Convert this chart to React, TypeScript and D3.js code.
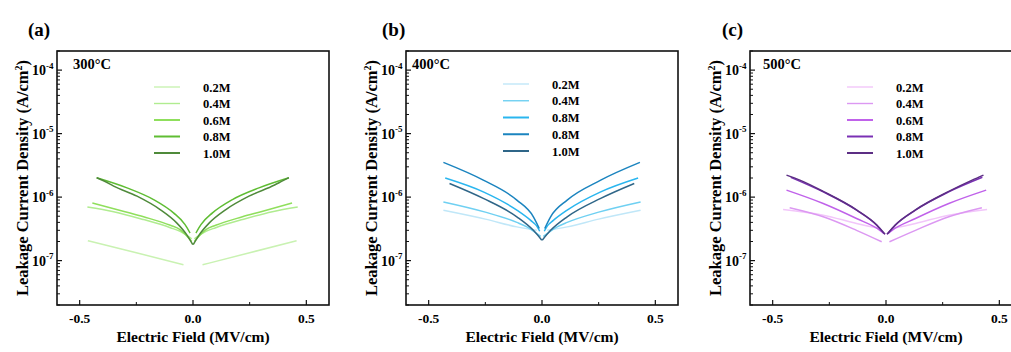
import React from 'react';
import * as d3 from 'd3';

// ---------- data ----------
const fieldTicks = [-0.5, 0, 0.5];
const fieldTickLabels = ['-0.5', '0.0', '0.5'];
const fieldMinorTicks = [-0.25, 0.25];
const densityTicks = [1e-7, 1e-6, 1e-5, 1e-4];
const densityTickExp = ['-7', '-6', '-5', '-4'];
const fieldDomain: [number, number] = [-0.6, 0.6];
const densityDomain: [number, number] = [2e-8, 2e-4];

const titles = ['300°C', '400°C', '500°C'];
const panelTags = ['(a)', '(b)', '(c)'];
const legendA = ['0.2M', '0.4M', '0.6M', '0.8M', '1.0M'];
const legendB = ['0.2M', '0.4M', '0.8M', '0.8M', '1.0M'];
const legendC = ['0.2M', '0.4M', '0.6M', '0.8M', '1.0M'];

const colorsA = ['#c9f2b2', '#b0ec90', '#8fdf5c', '#5fbd33', '#4f8a3a'];
const colorsB = ['#c0e7f8', '#6fd0f2', '#2ab6ef', '#1b84bf', '#2f6688'];
const colorsC = ['#f2c6fa', '#dc98f2', '#c062ea', '#7a30b4', '#5c2e84'];

type Pt = [number, number];

// panel (a) 300°C
const a02: Pt[] = [[-0.464, 2.06e-7], [-0.25, 1.33e-7], [-0.042, 8.6e-8], [0.042, 8.6e-8], [0.25, 1.33e-7], [0.457, 2.06e-7]];
const a04: Pt[] = [[-0.466, 7.0e-7], [-0.35, 5.9e-7], [-0.218, 4.43e-7], [-0.1, 3.3e-7], [-0.057, 2.9e-7], [-0.006, 2.2e-7],
  [0.006, 2.2e-7], [0.057, 2.9e-7], [0.1, 3.3e-7], [0.218, 4.43e-7], [0.35, 5.9e-7], [0.462, 7.0e-7]];
const a06: Pt[] = [[-0.444, 8.1e-7], [-0.3, 5.9e-7], [-0.218, 4.9e-7], [-0.1, 3.6e-7], [-0.057, 3.08e-7], [-0.006, 2.0e-7],
  [0.006, 2.0e-7], [0.057, 3.08e-7], [0.1, 3.6e-7], [0.218, 4.9e-7], [0.3, 5.9e-7], [0.437, 8.1e-7]];
const a08: Pt[] = [[-0.425, 2.02e-6], [-0.291, 1.4e-6], [-0.174, 9.16e-7], [-0.086, 5.65e-7], [-0.035, 3.69e-7], [-0.013, 2.72e-7],
  [0.013, 2.72e-7], [0.035, 3.69e-7], [0.086, 5.65e-7], [0.174, 9.16e-7], [0.291, 1.4e-6], [0.423, 2.02e-6]];
const a10: Pt[] = [[-0.425, 2.02e-6], [-0.39, 1.78e-6], [-0.35, 1.49e-6], [-0.247, 1.035e-6], [-0.145, 6.37e-7], [-0.072, 3.93e-7], [-0.028, 2.56e-7], [-0.001, 1.78e-7],
  [0.001, 1.78e-7], [0.028, 2.56e-7], [0.072, 3.93e-7], [0.145, 6.37e-7], [0.247, 1.035e-6], [0.36, 1.55e-6], [0.395, 1.8e-6], [0.423, 2.02e-6]];

// panel (b) 400°C
const b02: Pt[] = [[-0.435, 6.2e-7], [-0.25, 4.5e-7], [-0.111, 3.4e-7], [-0.023, 3.0e-7],
  [0.023, 3.0e-7], [0.111, 3.4e-7], [0.25, 4.5e-7], [0.435, 6.2e-7]];
const b04: Pt[] = [[-0.435, 8.4e-7], [-0.25, 5.8e-7], [-0.111, 4.0e-7], [-0.067, 3.4e-7], [-0.006, 2.4e-7],
  [0.006, 2.4e-7], [0.067, 3.4e-7], [0.111, 4.0e-7], [0.25, 5.8e-7], [0.435, 8.4e-7]];
const b08a: Pt[] = [[-0.427, 2.0e-6], [-0.259, 1.21e-6], [-0.111, 6.24e-7], [-0.05, 4.3e-7], [-0.023, 3.5e-7], [-0.01, 2.9e-7],
  [0.01, 2.9e-7], [0.023, 3.5e-7], [0.05, 4.3e-7], [0.111, 6.24e-7], [0.259, 1.21e-6], [0.424, 2.0e-6]];
const b08b: Pt[] = [[-0.435, 3.52e-6], [-0.259, 1.85e-6], [-0.111, 8.97e-7], [-0.038, 4.9e-7], [-0.012, 3.21e-7],
  [0.012, 3.21e-7], [0.038, 4.9e-7], [0.111, 8.97e-7], [0.259, 1.85e-6], [0.432, 3.52e-6]];
const b10: Pt[] = [[-0.408, 1.64e-6], [-0.259, 9.55e-7], [-0.111, 4.9e-7], [-0.038, 3.0e-7], [-0.001, 2.1e-7],
  [0.001, 2.1e-7], [0.038, 3.0e-7], [0.111, 4.9e-7], [0.259, 9.55e-7], [0.407, 1.64e-6]];

// panel (c) 500°C
const c02: Pt[] = [[-0.454, 6.4e-7], [-0.277, 5.2e-7], [-0.13, 3.85e-7], [-0.027, 3.2e-7],
  [0.027, 3.2e-7], [0.13, 3.85e-7], [0.277, 5.2e-7], [0.446, 6.4e-7]];
const c04: Pt[] = [[-0.425, 6.8e-7], [-0.277, 4.9e-7], [-0.13, 3.0e-7], [-0.019, 1.98e-7],
  [0.015, 1.98e-7], [0.13, 3.0e-7], [0.277, 4.9e-7], [0.423, 6.8e-7]];
const c06: Pt[] = [[-0.439, 1.29e-6], [-0.277, 7.94e-7], [-0.13, 4.6e-7], [-0.027, 3.0e-7], [-0.005, 2.6e-7],
  [0.005, 2.6e-7], [0.027, 3.0e-7], [0.13, 4.6e-7], [0.277, 7.94e-7], [0.442, 1.29e-6]];
const c08: Pt[] = [[-0.42, 2.05e-6], [-0.277, 1.21e-6], [-0.13, 6.24e-7], [-0.041, 3.62e-7], [-0.009, 2.68e-7],
  [0.009, 2.68e-7], [0.041, 3.62e-7], [0.13, 6.24e-7], [0.277, 1.21e-6], [0.425, 2.05e-6]];
const c10: Pt[] = [[-0.439, 2.22e-6], [-0.38, 1.85e-6], [-0.277, 1.23e-6], [-0.13, 6.3e-7], [-0.041, 3.65e-7], [-0.004, 2.6e-7],
  [0.004, 2.6e-7], [0.041, 3.65e-7], [0.13, 6.3e-7], [0.277, 1.23e-6], [0.38, 1.85e-6], [0.43, 2.22e-6]];

// ---------- layout ----------
const W = 1011;
const H = 352;
const TOP = 51;
const BOTTOM = 305;
const PW = 272;
const FONT = "'Liberation Serif', 'Times New Roman', serif";

interface PanelCfg {
  left: number;
  titleDx: number;
  tagDx: number;
  legendTop: number;
  legendStep: number;
  labels: string[];
  colors: string[];
  series: Pt[][];
}

const panels: PanelCfg[] = [
  { left: 57, titleDx: 16, tagDx: -29, legendTop: 87, legendStep: 16.5, labels: legendA, colors: colorsA, series: [a02, a04, a06, a08, a10] },
  { left: 406, titleDx: 6, tagDx: -24, legendTop: 84, legendStep: 16.75, labels: legendB, colors: colorsB, series: [b02, b04, b08a, b08b, b10] },
  { left: 750, titleDx: 13, tagDx: -28, legendTop: 87, legendStep: 16.5, labels: legendC, colors: colorsC, series: [c02, c04, c06, c08, c10] },
];

const txt: React.CSSProperties = { fontFamily: FONT, fontWeight: 700 };

function Panel({ cfg, idx }: { cfg: PanelCfg; idx: number }) {
  const x = d3.scaleLinear().domain(fieldDomain).range([cfg.left, cfg.left + PW]);
  const y = d3.scaleLog().domain(densityDomain).range([BOTTOM, TOP]);
  const line = d3
    .line<Pt>()
    .x((d) => x(d[0]))
    .y((d) => y(d[1]))
    .curve(d3.curveMonotoneX);

  const minorY: number[] = [];
  for (let e = -8; e <= -4; e++) {
    for (let m = 2; m <= 9; m++) {
      const v = m * Math.pow(10, e);
      if (v >= densityDomain[0] && v <= densityDomain[1]) minorY.push(v);
    }
  }

  const clipId = `clip${idx}`;
  const cy = (TOP + BOTTOM) / 2;

  return (
    <g>
      <defs>
        <clipPath id={clipId}>
          <rect x={cfg.left} y={TOP} width={PW} height={BOTTOM - TOP} />
        </clipPath>
      </defs>
      <text x={cfg.left + cfg.tagDx} y={36} style={{ ...txt, fontSize: 19 }}>
        {panelTags[idx]}
      </text>
      <g clipPath={`url(#${clipId})`}>
        {cfg.series.map((s, i) => {
          const neg = s.filter((p) => p[0] < 0);
          const pos = s.filter((p) => p[0] > 0);
          return (
            <g key={i}>
              <path d={line(neg) || ''} fill="none" stroke={cfg.colors[i]} strokeWidth={1.5} />
              <path d={line(pos) || ''} fill="none" stroke={cfg.colors[i]} strokeWidth={1.5} />
            </g>
          );
        })}
      </g>
      <rect x={cfg.left} y={TOP} width={PW} height={BOTTOM - TOP} fill="none" stroke="#111" strokeWidth={1.6} />
      {densityTicks.map((t, i) => (
        <g key={'yt' + i}>
          <line x1={cfg.left} x2={cfg.left + 5} y1={y(t)} y2={y(t)} stroke="#111" strokeWidth={1.2} />
          <text x={cfg.left - 11} y={y(t) + 5} textAnchor="end" style={{ ...txt, fontSize: 14 }}>
            10
          </text>
          <text x={cfg.left - 11} y={y(t) - 1.5} textAnchor="start" style={{ ...txt, fontSize: 9 }}>
            {densityTickExp[i]}
          </text>
        </g>
      ))}
      {minorY.map((t, i) => (
        <line key={'ym' + i} x1={cfg.left} x2={cfg.left + 3} y1={y(t)} y2={y(t)} stroke="#111" strokeWidth={1} />
      ))}
      {fieldTicks.map((t, i) => (
        <g key={'xt' + i}>
          <line x1={x(t)} x2={x(t)} y1={BOTTOM} y2={BOTTOM - 5} stroke="#111" strokeWidth={1.2} />
          <text x={x(t)} y={323} textAnchor="middle" style={{ ...txt, fontSize: 13.5 }}>
            {fieldTickLabels[i]}
          </text>
        </g>
      ))}
      {fieldMinorTicks.map((t, i) => (
        <line key={'xm' + i} x1={x(t)} x2={x(t)} y1={BOTTOM} y2={BOTTOM - 3} stroke="#111" strokeWidth={1} />
      ))}
      <text x={cfg.left + cfg.titleDx} y={69} style={{ ...txt, fontSize: 14.5 }}>
        {titles[idx]}
      </text>
      {cfg.labels.map((lab, i) => {
        const ly = cfg.legendTop + i * cfg.legendStep;
        return (
          <g key={'lg' + i}>
            <line x1={cfg.left + 97} x2={cfg.left + 123} y1={ly} y2={ly} stroke={cfg.colors[i]} strokeWidth={i < 2 ? 1.4 : 2} />
            <text x={cfg.left + 146} y={ly + 4.5} style={{ ...txt, fontSize: 12.5 }}>
              {lab}
            </text>
          </g>
        );
      })}
      <text x={x(0)} y={342} textAnchor="middle" style={{ ...txt, fontSize: 15.5 }}>
        Electric Field (MV/cm)
      </text>
      <text
        transform={`translate(${cfg.left - 29},${cy}) rotate(-90)`}
        textAnchor="middle"
        style={{ ...txt, fontSize: 16.5 }}
      >
        Leakage Current Density (A/cm
        <tspan dy={-6} style={{ fontSize: 10 }}>2</tspan>
        <tspan dy={6}>)</tspan>
      </text>
    </g>
  );
}

export default function App() {
  return (
    <svg
      width={W}
      height={H}
      viewBox={`0 0 ${W} ${H}`}
      style={{ position: 'absolute', left: 0, top: 0, background: '#fff' }}
    >
      <rect x={0} y={0} width={W} height={H} fill="#fff" />
      {panels.map((p, i) => (
        <Panel key={i} cfg={p} idx={i} />
      ))}
    </svg>
  );
}
